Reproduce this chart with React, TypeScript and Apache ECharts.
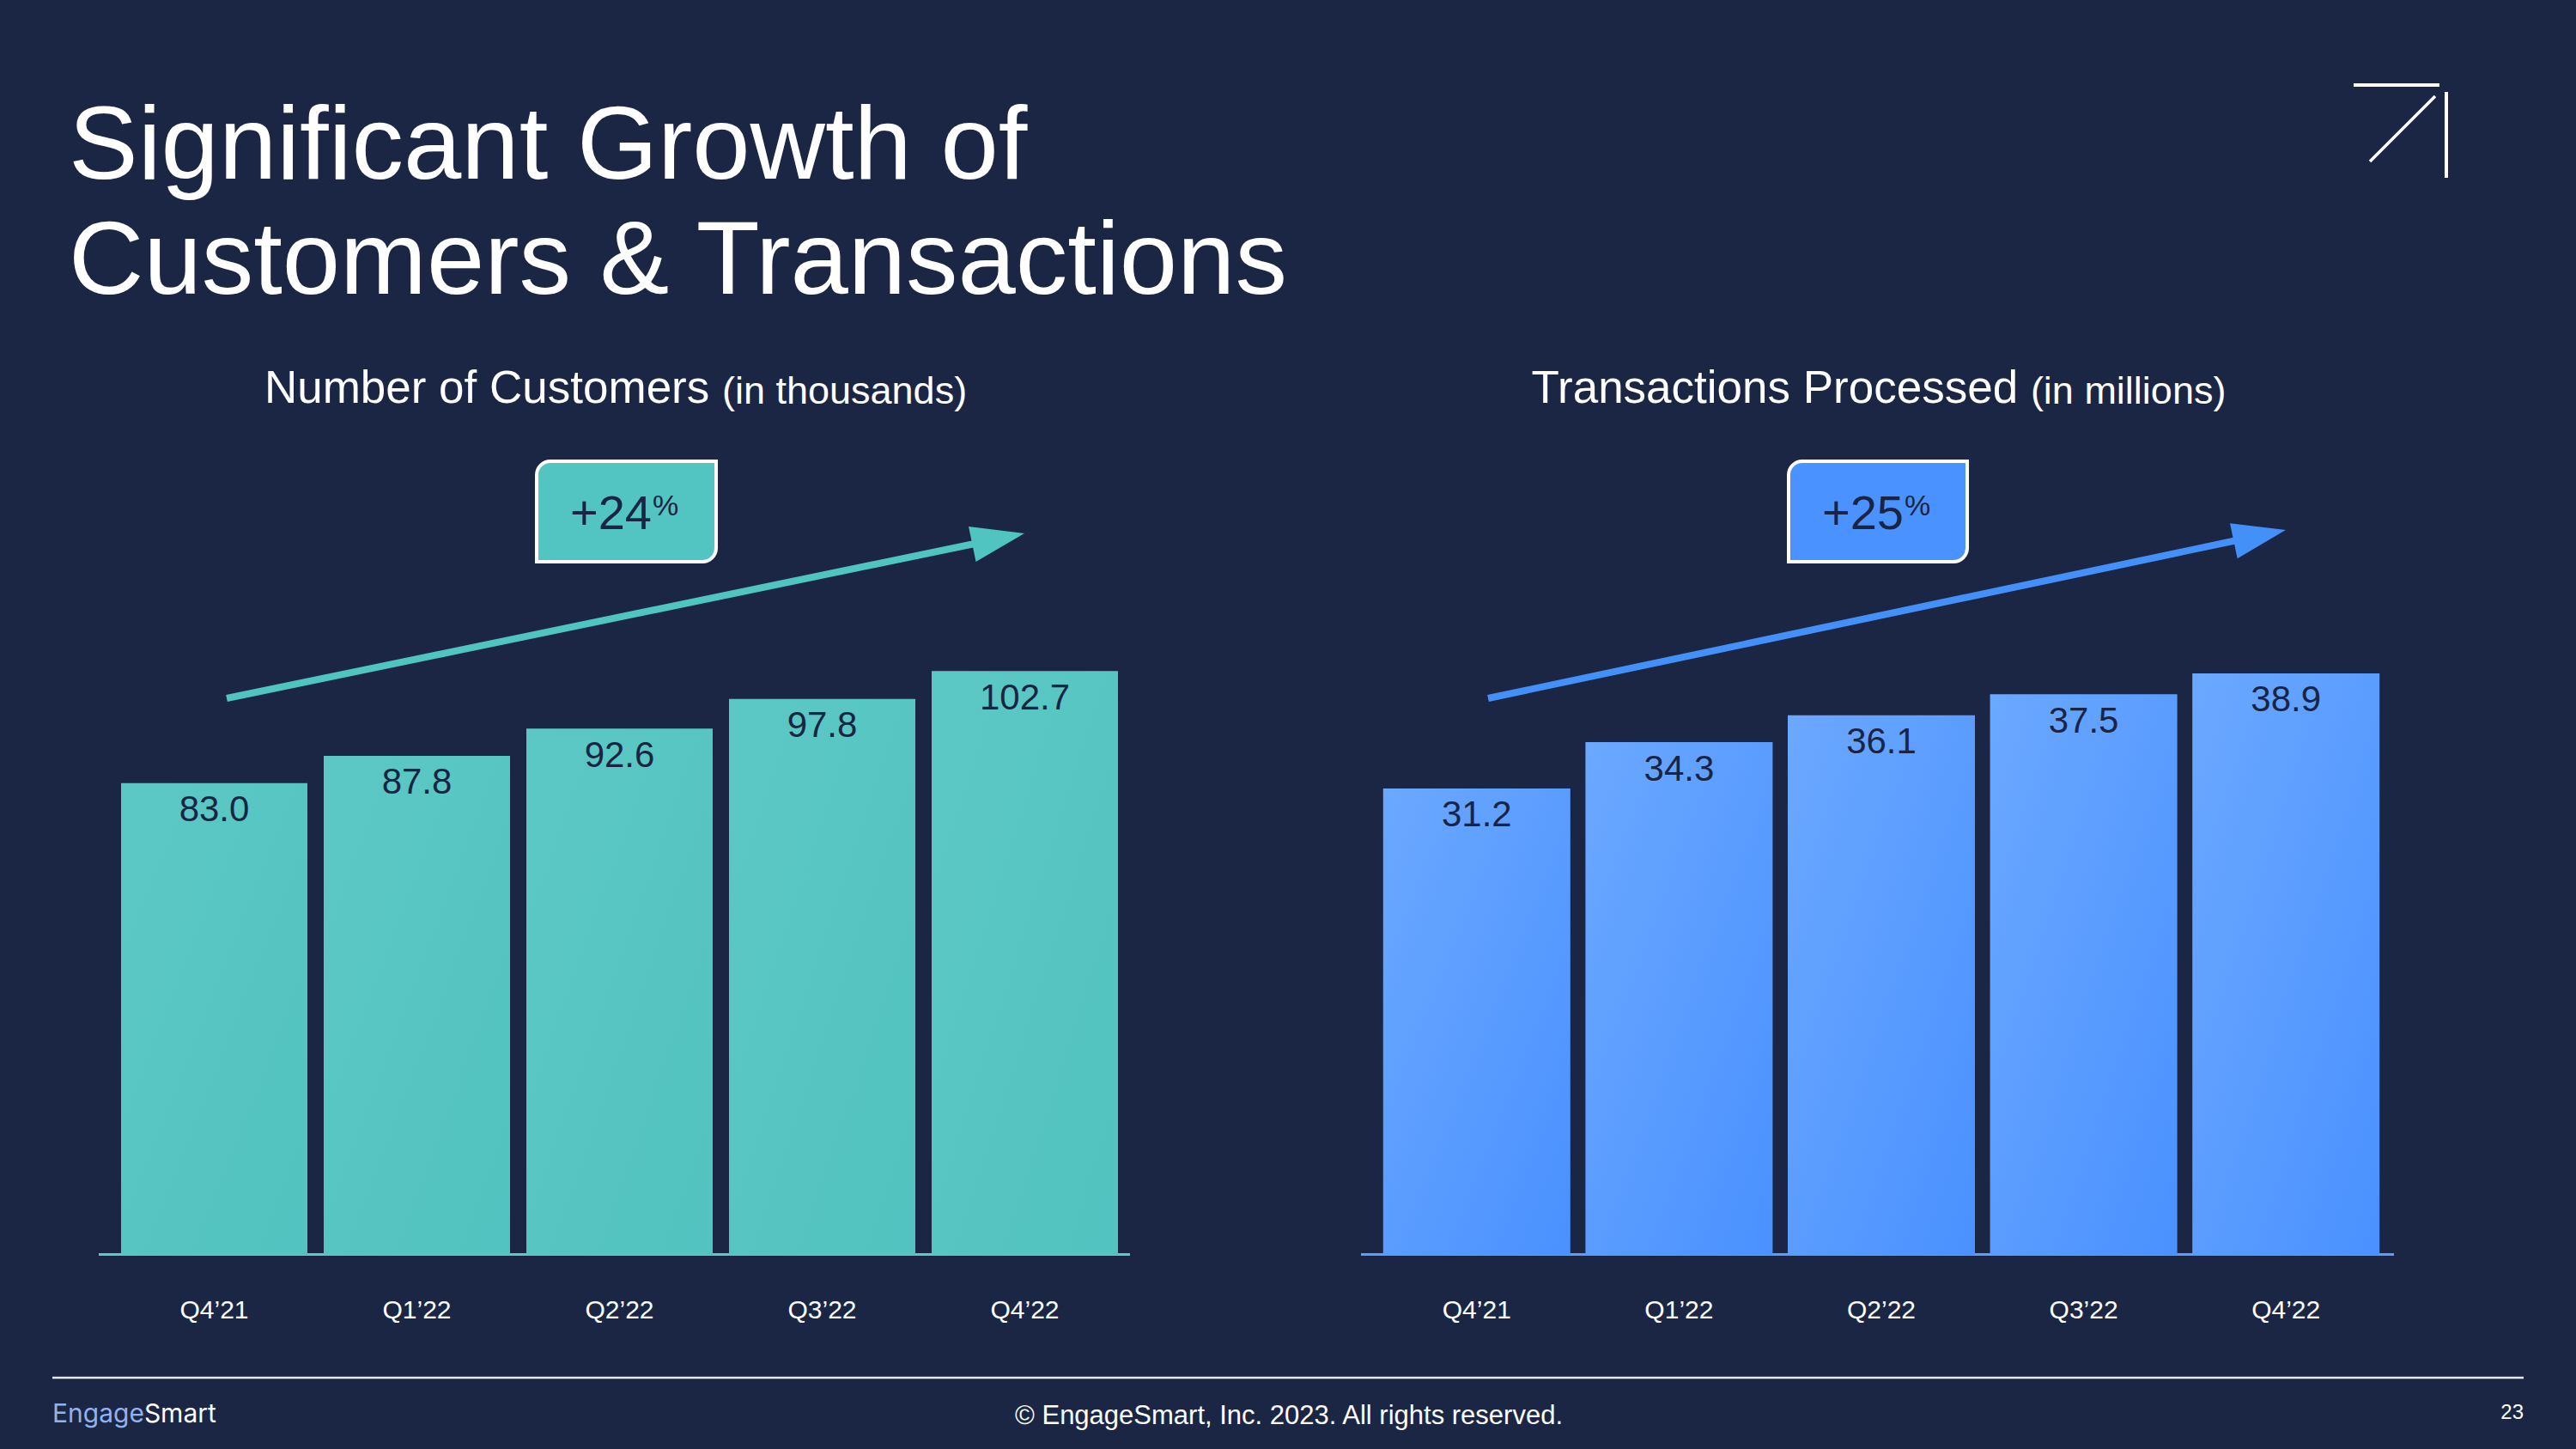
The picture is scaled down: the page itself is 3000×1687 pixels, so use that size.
import React, { useEffect, useRef } from "react";
import * as echarts from "echarts";

const categories = ["Q4’21", "Q1’22", "Q2’22", "Q3’22", "Q4’22"];
const customers = [83.0, 87.8, 92.6, 97.8, 102.7];
const transactions = [31.2, 34.3, 36.1, 37.5, 38.9];
const customersGrowth = "+24";
const transactionsGrowth = "+25";
const titleLines = ["Significant Growth of", "Customers & Transactions"];
const customersTitle = ["Number of Customers ", "(in thousands)"];
const transactionsTitle = ["Transactions Processed ", "(in millions)"];
const footerBrand = ["Engage", "Smart"];
const footerText = "© EngageSmart, Inc. 2023. All rights reserved.";
const pageNumber = "23";

const FONT = "'Liberation Sans', Arial, Helvetica, sans-serif";
const BG = "#1b2644";
const DARK = "#1b2543";

function arrow(x1: number, y1: number, x2: number, y2: number, color: string) {
  const dx = x2 - x1;
  const dy = y2 - y1;
  const len = Math.sqrt(dx * dx + dy * dy);
  const ux = dx / len;
  const uy = dy / len;
  const headLen = 62;
  const headHalf = 21;
  const bx = x2 - ux * headLen;
  const by = y2 - uy * headLen;
  const nx = -uy;
  const ny = ux;
  return [
    {
      type: "line",
      shape: { x1, y1, x2: bx + ux * 4, y2: by + uy * 4 },
      style: { stroke: color, lineWidth: 8, lineCap: "butt" },
    },
    {
      type: "polygon",
      shape: {
        points: [
          [x2, y2],
          [bx + nx * headHalf, by + ny * headHalf],
          [bx - nx * headHalf, by - ny * headHalf],
        ],
      },
      style: { fill: color },
    },
  ];
}

function badge(x: number, y: number, w: number, h: number, fill: string, value: string) {
  return [
    {
      type: "rect",
      shape: { x, y, width: w, height: h, r: [16, 0, 16, 0] },
      style: { fill, stroke: "#ffffff", lineWidth: 4 },
    },
    {
      type: "text",
      x: x + 134,
      y: y + 59,
      style: {
        text: value,
        fill: DARK,
        fontSize: 56,
        fontFamily: FONT,
        align: "right",
        verticalAlign: "middle",
      },
    },
    {
      type: "text",
      x: x + 135,
      y: y + 51,
      style: {
        text: "%",
        fill: DARK,
        fontSize: 34,
        fontFamily: FONT,
        align: "left",
        verticalAlign: "middle",
      },
    },
  ];
}

function subTitle(x: number, y: number, parts: string[]) {
  return {
    type: "text",
    x,
    y,
    style: {
      text: `{a|${parts[0]}}{b|${parts[1]}}`,
      align: "center",
      verticalAlign: "middle",
      rich: {
        a: { fill: "#ffffff", fontSize: 53, fontFamily: FONT, verticalAlign: "bottom" },
        b: { fill: "#ffffff", fontSize: 45, fontFamily: FONT, verticalAlign: "bottom" },
      },
    },
  };
}

function barLabel() {
  return {
    show: true,
    position: "insideTop",
    distance: 9,
    color: DARK,
    fontSize: 42,
    fontFamily: FONT,
    formatter: (p: any) => Number(p.value).toFixed(1),
  };
}

function xAxis(gridIndex: number) {
  return {
    type: "category",
    gridIndex,
    data: categories,
    axisLine: { show: false },
    axisTick: { show: false },
    splitLine: { show: false },
    axisLabel: { color: "#ffffff", fontSize: 30, fontFamily: FONT, margin: 48 },
  };
}

export default function App() {
  const ref = useRef<HTMLDivElement>(null);

  useEffect(() => {
    document.body.style.margin = "0";
    const chart = echarts.init(ref.current as HTMLDivElement, null, {
      renderer: "svg",
      width: 3000,
      height: 1687,
    });

    const option: any = {
      animation: false,
      backgroundColor: BG,
      textStyle: { fontFamily: FONT },
      grid: [
        { left: 131.5, right: 1688.5, top: 733, bottom: 226 },
        { left: 1602, right: 220, top: 730, bottom: 226 },
      ],
      xAxis: [xAxis(0), xAxis(1)],
      yAxis: [
        { type: "value", gridIndex: 0, min: 0, max: 110, show: false, splitLine: { show: false } },
        { type: "value", gridIndex: 1, min: 0, max: 42, show: false, splitLine: { show: false } },
      ],
      series: [
        {
          type: "bar",
          xAxisIndex: 0,
          yAxisIndex: 0,
          data: customers,
          barWidth: 217,
          itemStyle: {
            color: new echarts.graphic.LinearGradient(0, 0, 1, 1, [
              { offset: 0, color: "#5cc8c5" },
              { offset: 1, color: "#52c3c0" },
            ]),
          },
          label: barLabel(),
          z: 3,
        },
        {
          type: "bar",
          xAxisIndex: 1,
          yAxisIndex: 1,
          data: transactions,
          barWidth: 218,
          itemStyle: {
            color: new echarts.graphic.LinearGradient(0, 0, 1, 1, [
              { offset: 0, color: "#6ba8ff" },
              { offset: 1, color: "#4a91ff" },
            ]),
          },
          label: barLabel(),
          z: 3,
        },
      ],
      graphic: [
        {
          type: "text",
          x: 80,
          y: 166,
          style: { text: titleLines[0], fill: "#ffffff", fontSize: 121, fontFamily: FONT, verticalAlign: "middle" },
        },
        {
          type: "text",
          x: 80,
          y: 300,
          style: { text: titleLines[1], fill: "#ffffff", fontSize: 121, fontFamily: FONT, verticalAlign: "middle" },
        },
        subTitle(717, 450, customersTitle),
        subTitle(2188, 450, transactionsTitle),
        ...badge(625, 537, 209, 117, "#52c4c1", customersGrowth),
        ...badge(2083, 537, 208, 117, "#4a92ff", transactionsGrowth),
        ...arrow(264, 813, 1193, 621, "#4fc4c1"),
        ...arrow(1733, 813, 2662, 617, "#4390f8"),
        {
          type: "line",
          z: 1,
          shape: { x1: 115, y1: 1460.5, x2: 1316, y2: 1460.5 },
          style: { stroke: "#5ccac6", lineWidth: 3 },
        },
        {
          type: "line",
          z: 1,
          shape: { x1: 1585, y1: 1460.5, x2: 2788, y2: 1460.5 },
          style: { stroke: "#5a9cff", lineWidth: 3 },
        },
        {
          type: "line",
          shape: { x1: 2741, y1: 99, x2: 2841, y2: 99 },
          style: { stroke: "#ffffff", lineWidth: 4 },
        },
        {
          type: "line",
          shape: { x1: 2849, y1: 107, x2: 2849, y2: 207 },
          style: { stroke: "#ffffff", lineWidth: 4 },
        },
        {
          type: "line",
          shape: { x1: 2760, y1: 188, x2: 2836, y2: 112 },
          style: { stroke: "#ffffff", lineWidth: 3.5 },
        },
        {
          type: "line",
          shape: { x1: 61, y1: 1604, x2: 2939, y2: 1604 },
          style: { stroke: "#e6e8ee", lineWidth: 2.5 },
        },
        {
          type: "text",
          x: 61,
          y: 1645,
          style: {
            text: `{e|${footerBrand[0]}}{s|${footerBrand[1]}}`,
            verticalAlign: "middle",
            rich: {
              e: { fill: "#8fb3f0", fontSize: 30, fontFamily: "Inter, 'Noto Sans', sans-serif" },
              s: { fill: "#ffffff", fontSize: 30, fontFamily: "Inter, 'Noto Sans', sans-serif" },
            },
          },
        },
        {
          type: "text",
          x: 1501,
          y: 1647,
          style: { text: footerText, fill: "#ffffff", fontSize: 31, fontFamily: FONT, align: "center", verticalAlign: "middle" },
        },
        {
          type: "text",
          x: 2939,
          y: 1643,
          style: { text: pageNumber, fill: "#ffffff", fontSize: 24, fontFamily: FONT, align: "right", verticalAlign: "middle" },
        },
      ],
    };

    chart.setOption(option);
    return () => chart.dispose();
  }, []);

  return (
    <div
      ref={ref}
      style={{ width: 3000, height: 1687, position: "absolute", left: 0, top: 0 }}
    />
  );
}
